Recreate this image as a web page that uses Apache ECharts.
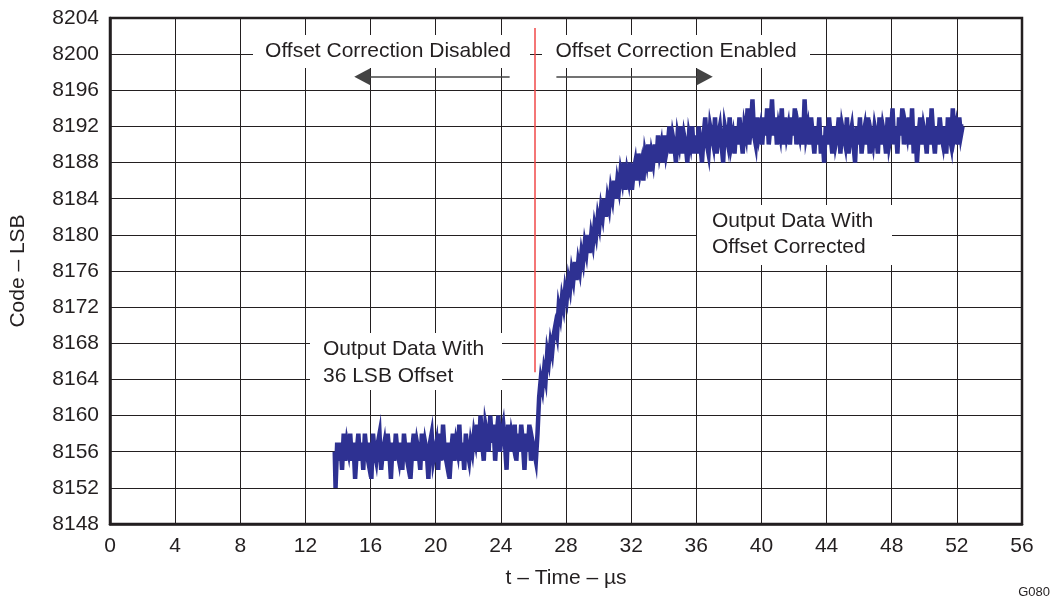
<!DOCTYPE html>
<html>
<head>
<meta charset="utf-8">
<script src="https://cdn.jsdelivr.net/npm/echarts@6/dist/echarts.min.js"></script>
<style>
html,body{margin:0;padding:0;background:#fff;}
#chart{width:1051px;height:599px;}
</style>
</head>
<body>
<div id="chart"></div>
<script>
// ---- data ----
var sampleStep = 0.1; // µs between samples
// output codes before the offset correction is switched on (t = 13.8 ... 26.2 µs)
var preStartTime = 13.8;
var preStepCodes = [
  8156,8152,8157,8155,8157,8154,8158,8155,8157,8156,
  8158,8155,8157,8153,8156,8158,8155,8157,8154,8158,
  8156,8155,8157,8153,8158,8156,8155,8157,8158,8154,
  8156,8157,8155,8158,8156,8153,8157,8155,8158,8156,
  8155,8157,8154,8158,8156,8155,8157,8153,8156,8158,
  8155,8157,8156,8154,8158,8155,8157,8156,8153,8157,
  8158,8155,8156,8157,8154,8158,8155,8159,8156,8155,
  8157,8153,8156,8158,8155,8157,8156,8159,8155,8157,
  8154,8158,8156,8155,8157,8156,8158,
  8157,8159,8156,8160,8157,8155,8159,8158,8156,8160,
  8157,8159,8155,8158,8160,8156,8158,8159,8157,8154,
  8159,8156,8158,8157,8159,8155,8158,8156,8159,8157,
  8154,8158,8156,8159,8155,8157,8156,8155
];
// output codes while the correction loop settles (t = 26.3 ... 36.0 µs)
var riseStartTime = 26.3;
var riseCodes = [
  8158,8162,8164,8163,8165,8164,8167,8166,8168,8167,
  8169,8170,8169,8172,8171,8173,8172,8174,8173,8175,
  8174,8176,8175,8177,8175,8177,8176,8178,8177,8179,
  8178,8180,8178,8180,8179,8181,8180,8182,8181,8183,
  8182,8184,8182,8184,8183,8185,8184,8186,8184,8186,
  8185,8187,8186,8188,8185,8187,8186,8188,8185,8187,
  8188,8186,8189,8187,8188,8186,8189,8188,8190,8187,
  8189,8188,8190,8188,8191,8189,8190,8188,8191,8189,
  8190,8192,8189,8191,8190,8188,8191,8190,8192,8189,
  8191,8190,8188,8191,8190,8192,8189,8191
];
// output codes with offset corrected (t = 36.1 ... 52.4 µs)
var settledStartTime = 36.1;
var settledCodes = [
  8189,8192,8190,8188,8191,8193,8190,8189,8192,8191,
  8190,8193,8189,8191,8192,8190,8188,8192,8191,8190,
  8193,8190,8191,8189,8192,8190,8193,8191,8189,8192,
  8191,8194,8190,8192,8195,8191,8190,8193,8191,8192,
  8190,8193,8191,8194,8190,8192,8195,8191,8193,8190,
  8192,8191,8194,8190,8193,8191,8192,8190,8193,8191,
  8194,8190,8192,8191,8193,8190,8195,8191,8192,8190,
  8193,8191,8189,8192,8190,8193,8189,8191,8188,8192,
  8190,8193,8191,8189,8192,8190,8191,8193,8189,8192,
  8191,8190,8193,8189,8191,8192,8190,8188,8192,8190,
  8193,8189,8191,8192,8190,8193,8189,8191,8190,8192,
  8191,8189,8193,8190,8192,8191,8189,8193,8190,8191,
  8194,8190,8192,8189,8193,8191,8194,8190,8192,8191,
  8193,8190,8194,8189,8192,8188,8191,8193,8190,8192,
  8191,8189,8193,8190,8194,8191,8189,8192,8190,8193,
  8191,8190,8192,8189,8193,8191,8190,8194,8191,8192,
  8190,8193,8191,8192
];
// correction switch-on instant and its marker extent
var switchTime = 26.1;
var switchMarkerCodes = [8164.8, 8202.9];
// arrows (time from, time to, code level)
var disabledArrow = [24.54, 15.49, 8197.5];
var enabledArrow = [27.41, 36.52, 8197.5];
// axes
var xMin = 0, xMax = 56, xStep = 4;
var yMin = 8148, yMax = 8204, yStep = 4;

// ---- build ----
function toPairs(start, codes) {
  var out = [];
  for (var i = 0; i < codes.length; i++) {
    out.push([Math.round((start + i * sampleStep) * 100) / 100, codes[i]]);
  }
  return out;
}
var seriesData = []
  .concat(toPairs(preStartTime, preStepCodes))
  .concat(toPairs(riseStartTime, riseCodes))
  .concat(toPairs(settledStartTime, settledCodes));

var FONT = "'Liberation Sans', Arial, Helvetica, sans-serif";
var INK = '#231f20';

var chart = echarts.init(document.getElementById('chart'), null, {renderer: 'canvas'});
var option = {
  animation: false,
  backgroundColor: '#fff',
  grid: {left: 110, right: 29, top: 18, bottom: 75, show: true, borderColor: INK, borderWidth: 2.5, backgroundColor: 'transparent'},
  xAxis: {
    type: 'value', min: xMin, max: xMax, interval: xStep,
    name: 't \u2013 Time \u2013 \u00b5s', nameLocation: 'middle', nameGap: 44,
    nameTextStyle: {fontFamily: FONT, fontSize: 21, color: INK},
    axisLine: {show: true, lineStyle: {color: INK, width: 2.5}},
    axisTick: {show: false},
    axisLabel: {fontFamily: FONT, fontSize: 21, color: INK, margin: 12, formatter: function (v) { return String(v); }},
    splitLine: {show: true, lineStyle: {color: INK, width: 1}}
  },
  yAxis: {
    type: 'value', min: yMin, max: yMax, interval: yStep,
    name: 'Code \u2013 LSB', nameLocation: 'middle', nameGap: 81, nameRotate: 90,
    nameTextStyle: {fontFamily: FONT, fontSize: 21, color: INK},
    axisLine: {show: true, lineStyle: {color: INK, width: 2.5}},
    axisTick: {show: false},
    axisLabel: {fontFamily: FONT, fontSize: 21, color: INK, margin: 11, formatter: function (v) { return String(v); }},
    splitLine: {show: true, lineStyle: {color: INK, width: 1}}
  },
  series: [
    {
      type: 'line', data: seriesData, showSymbol: false, z: 5, step: 'middle', sampling: null,
      lineStyle: {color: '#2e3192', width: 4.5, join: 'miter', cap: 'butt'}, itemStyle: {color: '#2e3192'},
      markLine: {
        silent: true, symbol: ['none', 'none'], label: {show: false},
        data: [
          [{coord: [switchTime, switchMarkerCodes[0]], lineStyle: {color: '#f04848', width: 1.5, type: 'solid'}},
           {coord: [switchTime, switchMarkerCodes[1]]}],
          [{coord: [disabledArrow[0], disabledArrow[2]], symbol: 'none', lineStyle: {color: '#444', width: 1.5, type: 'solid'}},
           {coord: [disabledArrow[1], disabledArrow[2]], symbol: 'triangle', symbolSize: [17, 16]}],
          [{coord: [enabledArrow[0], enabledArrow[2]], symbol: 'none', lineStyle: {color: '#444', width: 1.5, type: 'solid'}},
           {coord: [enabledArrow[1], enabledArrow[2]], symbol: 'triangle', symbolSize: [17, 16]}]
        ],
        itemStyle: {color: '#231f20'}
      }
    }
  ],
  graphic: [
    {type: 'rect', z: 3, shape: {x: 253, y: 35, width: 277, height: 33}, style: {fill: '#fff'}},
    {type: 'rect', z: 3, shape: {x: 542, y: 35, width: 268, height: 33}, style: {fill: '#fff'}},
    {type: 'rect', z: 3, shape: {x: 697, y: 205, width: 195, height: 60}, style: {fill: '#fff'}},
    {type: 'rect', z: 3, shape: {x: 310, y: 333, width: 192, height: 57}, style: {fill: '#fff'}},
    {type: 'text', z: 4, x: 388, y: 51, style: {text: 'Offset Correction Disabled', font: '21px ' + FONT, fill: INK, textAlign: 'center', textVerticalAlign: 'middle'}},
    {type: 'text', z: 4, x: 676, y: 51, style: {text: 'Offset Correction Enabled', font: '21px ' + FONT, fill: INK, textAlign: 'center', textVerticalAlign: 'middle'}},
    {type: 'text', z: 4, x: 712, y: 221, style: {text: 'Output Data With', font: '21px ' + FONT, fill: INK, textAlign: 'left', textVerticalAlign: 'middle'}},
    {type: 'text', z: 4, x: 712, y: 247, style: {text: 'Offset Corrected', font: '21px ' + FONT, fill: INK, textAlign: 'left', textVerticalAlign: 'middle'}},
    {type: 'text', z: 4, x: 323, y: 349, style: {text: 'Output Data With', font: '21px ' + FONT, fill: INK, textAlign: 'left', textVerticalAlign: 'middle'}},
    {type: 'text', z: 4, x: 323, y: 376, style: {text: '36 LSB Offset', font: '21px ' + FONT, fill: INK, textAlign: 'left', textVerticalAlign: 'middle'}},
    {type: 'text', z: 4, x: 1050, y: 592, style: {text: 'G080', font: '13px ' + FONT, fill: INK, textAlign: 'right', textVerticalAlign: 'middle'}}
  ]
};
chart.setOption(option);
</script>
</body>
</html>
